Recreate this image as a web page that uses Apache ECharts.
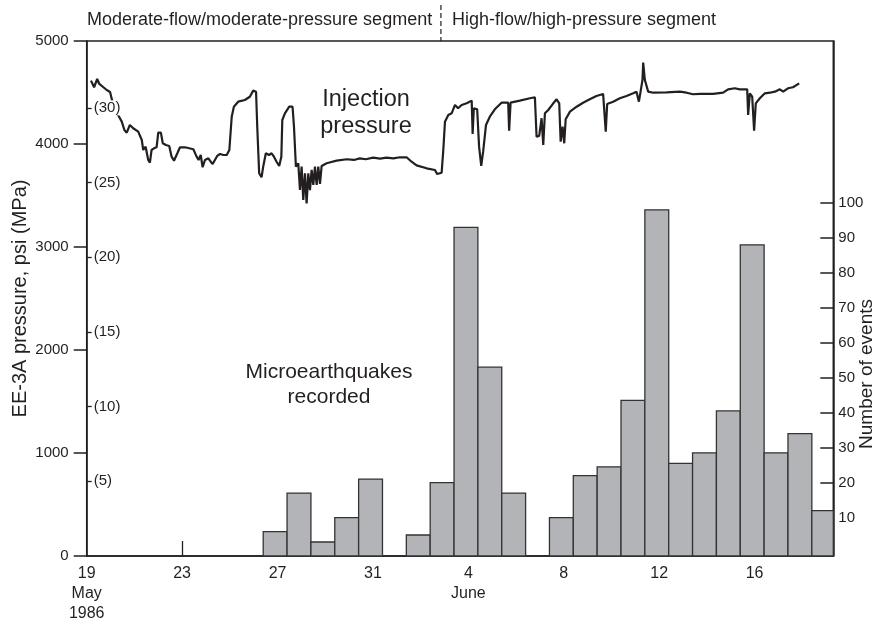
<!DOCTYPE html>
<html>
<head>
<meta charset="utf-8">
<script src="https://cdn.jsdelivr.net/npm/echarts@6/dist/echarts.min.js"></script>
<style>html,body{margin:0;padding:0;background:#fff}#c{width:882px;height:624px}</style>
</head>
<body>
<div id="c"></div>
<script>
// ---- data (days since 19 May 1986, 00:00) ----
const injectionPressure = [
 [0.18,4615],[0.31,4551],[0.44,4631],[0.53,4583],[0.70,4551],[0.84,4524],[0.98,4505],[1.06,4427],
 [1.27,4301],[1.47,4217],[1.58,4136],[1.68,4110],[1.81,4185],[1.95,4153],[2.16,4120],[2.31,4039],
 [2.37,3942],[2.47,3974],[2.58,3845],[2.65,3819],[2.72,3942],[2.82,3958],[2.93,3968],[3.00,4110],
 [3.11,4110],[3.19,4007],[3.32,3990],[3.46,3981],[3.56,3877],[3.66,3838],[3.80,3910],[3.91,3968],
 [4.12,3968],[4.47,3949],[4.61,3877],[4.69,3845],[4.78,3893],[4.86,3774],[4.96,3845],[5.10,3861],
 [5.20,3828],[5.28,3806],[5.36,3806],[5.47,3884],[5.59,3903],[5.73,3893],[5.87,3893],[5.98,3942],
 [6.08,4265],[6.17,4362],[6.35,4411],[6.63,4427],[6.84,4459],[6.98,4518],[7.10,4508],[7.15,4168],
 [7.23,3716],[7.33,3677],[7.40,3780],[7.51,3910],[7.64,3893],[7.75,3910],[7.85,3877],[7.96,3828],
 [8.07,3787],[8.16,3877],[8.20,4233],[8.31,4298],[8.49,4362],[8.63,4362],[8.69,4168],[8.77,3780],
 [8.87,3813],[8.94,3553],[9.01,3780],[9.08,3456],[9.15,3716],[9.22,3424],[9.29,3716],[9.36,3553],
 [9.43,3748],[9.50,3602],[9.57,3780],[9.64,3602],[9.71,3780],[9.78,3612],[9.85,3787],[10.06,3813],
 [10.48,3838],[10.90,3852],[11.20,3845],[11.45,3861],[11.70,3852],[12.01,3867],[12.30,3858],[12.57,3867],
 [12.85,3861],[13.13,3871],[13.41,3871],[13.62,3828],[13.83,3793],[14.25,3764],[14.60,3748],[14.69,3709],
 [14.88,3721],[14.95,3942],[15.02,4217],[15.16,4282],[15.30,4298],[15.44,4379],[15.57,4347],[15.72,4379],
 [15.93,4395],[16.14,4421],[16.18,4097],[16.23,4347],[16.37,4337],[16.45,3974],[16.54,3787],[16.62,3925],
 [16.69,3942],[16.74,4185],[16.90,4265],[17.11,4337],[17.39,4401],[17.67,4401],[17.71,4129],[17.77,4401],
 [18.16,4421],[18.58,4444],[18.79,4454],[18.86,4071],[18.97,4078],[19.07,4250],[19.14,3990],[19.21,4298],
 [19.35,4330],[19.56,4395],[19.70,4434],[19.81,4395],[19.87,4022],[19.95,4168],[20.02,4007],[20.08,4240],
 [20.26,4314],[20.54,4362],[20.81,4401],[21.09,4434],[21.37,4466],[21.65,4486],[21.72,4476],[21.76,4120],
 [21.82,4388],[22.07,4411],[22.35,4444],[22.63,4466],[22.91,4492],[23.05,4508],[23.15,4411],[23.22,4508],
 [23.30,4621],[23.33,4790],[23.40,4621],[23.54,4508],[23.75,4498],[24.31,4502],[24.87,4508],[25.15,4498],
 [25.42,4483],[25.70,4486],[26.26,4486],[26.68,4498],[26.89,4531],[27.17,4541],[27.38,4531],[27.69,4531],
 [27.73,4282],[27.80,4492],[27.90,4459],[27.98,4129],[28.05,4395],[28.22,4444],[28.43,4492],[28.64,4498],
 [28.85,4508],[29.06,4531],[29.20,4508],[29.40,4541],[29.61,4551],[29.87,4589]
];
const eventBinStart = [7.4, 8.4, 9.4, 10.4, 11.4, 13.4, 14.4, 15.4, 16.4, 17.4, 19.4, 20.4,
                       21.4, 22.4, 23.4, 24.4, 25.4, 26.4, 27.4, 28.4, 29.4, 30.4];
const eventCounts   = [6, 17, 3, 10, 21, 5, 20, 93, 53, 17, 10, 22,
                       24.5, 43.5, 98, 25.5, 28.5, 40.5, 88, 28.5, 34, 12];
const eventBinDays = 1;
const xTickDays   = [0, 4, 8, 12, 16, 20, 24, 28];
const xTickLabels = ['19\nMay\n1986', '23', '27', '31', '4\nJune', '8', '12', '16'];
const countTicks  = [10, 20, 30, 40, 50, 60, 70, 80, 90, 100];
const mpaTicks    = [5, 10, 15, 20, 25, 30];
const segmentBoundaryDay = 14.85;
const PSI_PER_MPA = 145.038;
const X_MAX = 31.3, COUNT_MIN = -1, COUNT_MAX = 146.3;

const FONT = '"Liberation Sans", Arial, Helvetica, sans-serif';
const INK = '#231f20';
const chart = echarts.init(document.getElementById('c'));
const lineS = {color: INK, width: 1.5};

chart.setOption({
  animation: false,
  backgroundColor: '#fff',
  textStyle: {fontFamily: FONT, color: INK},
  grid: {left: 86.7, right: 48.7, top: 41, bottom: 68, show: true, outerBoundsMode: 'none', containLabel: false,
         borderColor: INK, borderWidth: 1.5, backgroundColor: 'transparent'},
  xAxis: {
    type: 'value', min: 0, max: X_MAX, interval: 4,
    axisLine: {lineStyle: lineS},
    axisTick: {inside: true, length: 15, customValues: xTickDays.slice(1), lineStyle: {color: INK, width: 1.3}},
    axisLabel: {customValues: xTickDays, fontSize: 16, lineHeight: 20, margin: 8, color: INK, fontFamily: FONT,
      formatter: v => { const i = xTickDays.indexOf(v); return i < 0 ? '' : xTickLabels[i]; }},
    splitLine: {show: false}
  },
  yAxis: [
    {type: 'value', position: 'left', min: 0, max: 5000, interval: 1000,
     name: 'EE-3A pressure, psi (MPa)', nameLocation: 'middle', nameGap: 56, nameMoveOverlap: false,
     nameTextStyle: {fontSize: 20, color: INK, fontFamily: FONT},
     axisLine: {show: true, lineStyle: lineS},
     axisTick: {show: true, length: 13, lineStyle: lineS},
     axisLabel: {fontSize: 15, margin: 18, color: INK, fontFamily: FONT, formatter: v => String(v)},
     splitLine: {show: false}},
    {type: 'value', position: 'right', min: COUNT_MIN, max: COUNT_MAX,
     axisLine: {show: true, lineStyle: lineS},
     axisTick: {show: true, inside: true, length: 13, customValues: countTicks, lineStyle: lineS},
     axisLabel: {customValues: countTicks, fontSize: 15, margin: 5, color: INK, fontFamily: FONT},
     splitLine: {show: false}},
    {type: 'value', position: 'left', min: 0, max: 5000 / PSI_PER_MPA, z: 5,
     axisLine: {show: false},
     axisTick: {show: true, inside: true, length: 5, customValues: mpaTicks, lineStyle: {color: INK, width: 1.3}},
     axisLabel: {inside: true, customValues: mpaTicks, formatter: v => '(' + v + ')', margin: 6,
                 fontSize: 15, color: INK, fontFamily: FONT, backgroundColor: '#fff', padding: [0, 1]},
     splitLine: {show: false}}
  ],
  series: [
    {type: 'custom', xAxisIndex: 0, yAxisIndex: 1,
     data: eventBinStart.map((s, i) => [s, s + eventBinDays, eventCounts[i]]),
     encode: {x: [0, 1], y: 2},
     renderItem: (params, api) => {
       const pTop = api.coord([api.value(0), api.value(2)]);
       const pBot = api.coord([api.value(1), COUNT_MIN]);
       const cs = params.coordSys;
       const rect = echarts.graphic.clipRectByRect(
         {x: pTop[0], y: pTop[1], width: pBot[0] - pTop[0], height: pBot[1] - pTop[1]},
         {x: cs.x, y: cs.y, width: cs.width, height: cs.height});
       return rect && {type: 'rect', shape: rect,
         style: {fill: '#b3b4b7', stroke: '#333', lineWidth: 1.3}};
     }},
    {type: 'line', xAxisIndex: 0, yAxisIndex: 0, data: injectionPressure, showSymbol: false, symbol: 'none',
     lineStyle: {color: INK, width: 2.2}, z: 3}
  ]
});

const bx = chart.convertToPixel({xAxisIndex: 0}, segmentBoundaryDay);
chart.setOption({
  graphic: [
    {type: 'line', shape: {x1: bx, y1: 5, x2: bx, y2: 41}, style: {stroke: INK, lineWidth: 1.2, lineDash: [5, 3]}},
    {type: 'text', x: 87, y: 20, style: {text: 'Moderate-flow/moderate-pressure segment', fontSize: 18, fontFamily: FONT, fill: INK, align: 'left', verticalAlign: 'middle'}},
    {type: 'text', x: bx + 11, y: 20, style: {text: 'High-flow/high-pressure segment', fontSize: 18, fontFamily: FONT, fill: INK, align: 'left', verticalAlign: 'middle'}},
    {type: 'text', x: 366, y: 113, style: {text: 'Injection\npressure', fontSize: 23.5, lineHeight: 27, fontFamily: FONT, fill: INK, align: 'center', verticalAlign: 'middle'}},
    {type: 'text', x: 329, y: 385, style: {text: 'Microearthquakes\nrecorded', fontSize: 21, lineHeight: 25, fontFamily: FONT, fill: INK, align: 'center', verticalAlign: 'middle'}},
    {type: 'text', x: 867, y: 374, rotation: Math.PI / 2, style: {text: 'Number of events', fontSize: 19, fontFamily: FONT, fill: INK, align: 'center', verticalAlign: 'middle'}}
  ]
});
</script>
</body>
</html>
